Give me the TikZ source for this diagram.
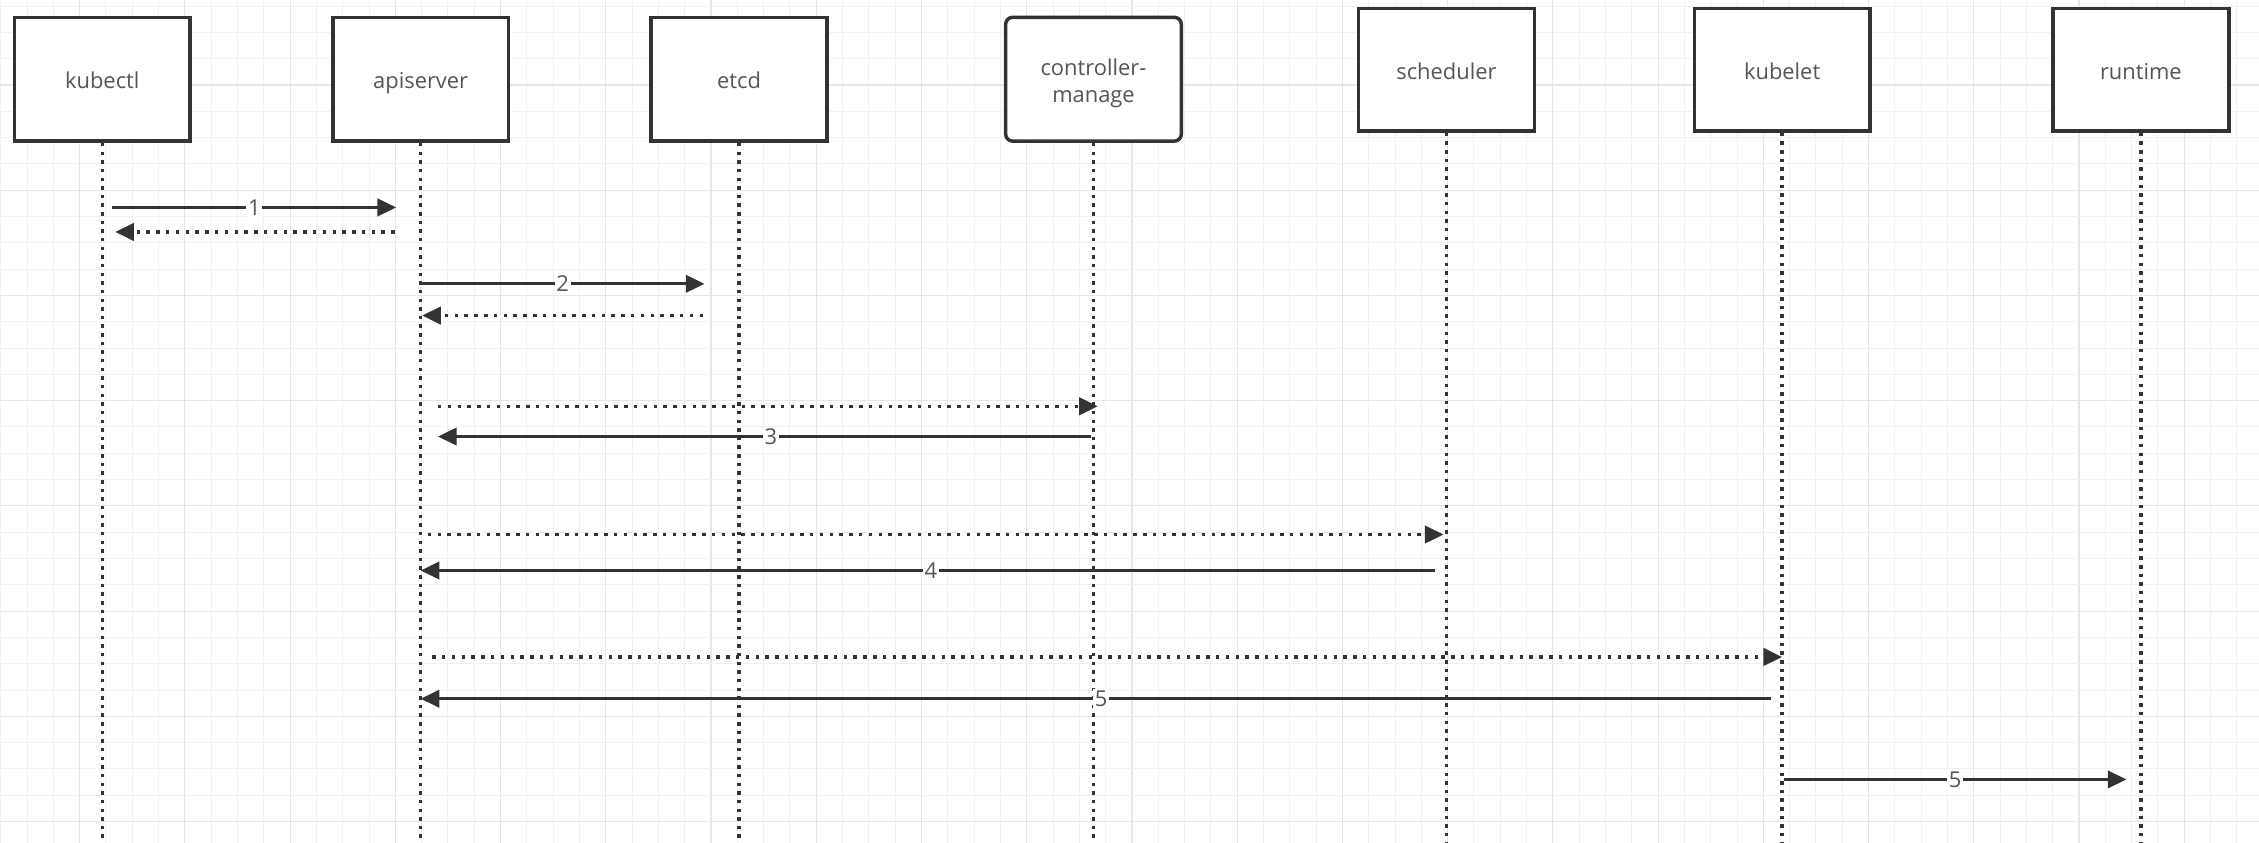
\documentclass[tikz,border=0pt]{standalone}
\usepackage{fontspec}
\setmainfont{Open Sans}
\usetikzlibrary{arrows.meta}
\definecolor{ln}{RGB}{51,51,51}
\definecolor{tx}{RGB}{85,85,85}
\definecolor{gminor}{RGB}{241,241,241}
\definecolor{gmajor}{RGB}{230,230,230}
\begin{document}
\begin{tikzpicture}[x=0.5pt,y=-0.5pt,
  actor/.style={draw=ln, line width=1.2pt, fill=white, minimum width=61pt, minimum height=43pt, inner sep=0pt, text=tx, font=\fontsize{7.6}{9.5}\selectfont, align=center, text height=8.1pt, text depth=1.6pt},
  actorb/.style={actor, minimum height=42.5pt},
  life/.style={draw=ln, line width=1.2pt, dash pattern=on 1.2pt off 1.8pt},
  msg/.style={draw=ln, line width=1.1pt, -{Triangle[length=6.5pt,width=6pt]}},
  ret/.style={msg, line width=1.2pt, dash pattern=on 1.2pt off 2.2pt},
  lbl/.style={fill=white, text=tx, font=\fontsize{7.6}{9}\selectfont, inner sep=0.6pt}
]
\useasboundingbox (0,0) rectangle (1568,585);
\fill[white] (0,0) rectangle (1568,585);
% grid
\foreach \k in {0,...,86} {
  \pgfmathsetmacro\gx{0.5+18.26*\k}
  \pgfmathtruncatemacro\mm{mod(\k,4)}
  \ifnum\mm=3 \draw[gmajor, line width=0.4pt] (\gx,0) -- (\gx,585);
  \else \draw[gminor, line width=0.35pt] (\gx,0) -- (\gx,585); \fi
}
\foreach \k in {0,...,32} {
  \pgfmathsetmacro\gy{4.2+18.26*\k}
  \pgfmathtruncatemacro\mm{mod(\k,4)}
  \ifnum\mm=3 \draw[gmajor, line width=0.4pt] (0,\gy) -- (1568,\gy);
  \else \draw[gminor, line width=0.35pt] (0,\gy) -- (1568,\gy); \fi
}
% actors
\node[actor] (kubectl) at (71,55) {kubectl};
\node[actor] (apiserver) at (292,55) {apiserver};
\node[actor] (etcd) at (513,55) {etcd};
\node[actor, rounded corners=2.5pt, text height=18pt] (ctrl) at (759,55) {controller-\\manage};
\node[actorb] (scheduler) at (1004,48.5) {scheduler};
\node[actorb] (kubelet) at (1237,48.5) {kubelet};
\node[actorb] (runtime) at (1486,48.5) {runtime};
\coordinate (bot) at (0,586);
% lifelines
\foreach \n in {kubectl,apiserver,etcd,ctrl,scheduler,kubelet,runtime}
  \draw[life] (\n.south) -- (\n.south |- bot);
% message end points
\coordinate (m1a) at (78,144);   \coordinate (m1b) at (275,144);
\coordinate (r1a) at (274,161);  \coordinate (r1b) at (80,161);
\coordinate (m2a) at (292,197);  \coordinate (m2b) at (489,197);
\coordinate (r2a) at (488,219);  \coordinate (r2b) at (293,219);
\coordinate (r3a) at (304,282);  \coordinate (r3b) at (762,282);
\coordinate (m3a) at (757,303);  \coordinate (m3b) at (304,303);
\coordinate (r4a) at (297,371);  \coordinate (r4b) at (1002,371);
\coordinate (m4a) at (996,396);  \coordinate (m4b) at (292,396);
\coordinate (r5a) at (300,456);  \coordinate (r5b) at (1237,456);
\coordinate (m5a) at (1229,485); \coordinate (m5b) at (292,485);
\coordinate (m6a) at (1238,541); \coordinate (m6b) at (1476,541);
% messages
\draw[msg] (m1a) -- node[lbl] {1} (m1b);
\draw[ret] (r1a) -- (r1b);
\draw[msg] (m2a) -- node[lbl] {2} (m2b);
\draw[ret] (r2a) -- (r2b);
\draw[ret] (r3a) -- (r3b);
\draw[msg] (m3a) -- node[lbl, pos=0.49] {3} (m3b);
\draw[ret] (r4a) -- (r4b);
\draw[msg] (m4a) -- node[lbl, pos=0.497] {4} (m4b);
\draw[ret] (r5a) -- (r5b);
\draw[msg] (m5a) -- node[lbl, pos=0.496] {5} (m5b);
\draw[msg] (m6a) -- node[lbl] {5} (m6b);
\end{tikzpicture}
\end{document}
